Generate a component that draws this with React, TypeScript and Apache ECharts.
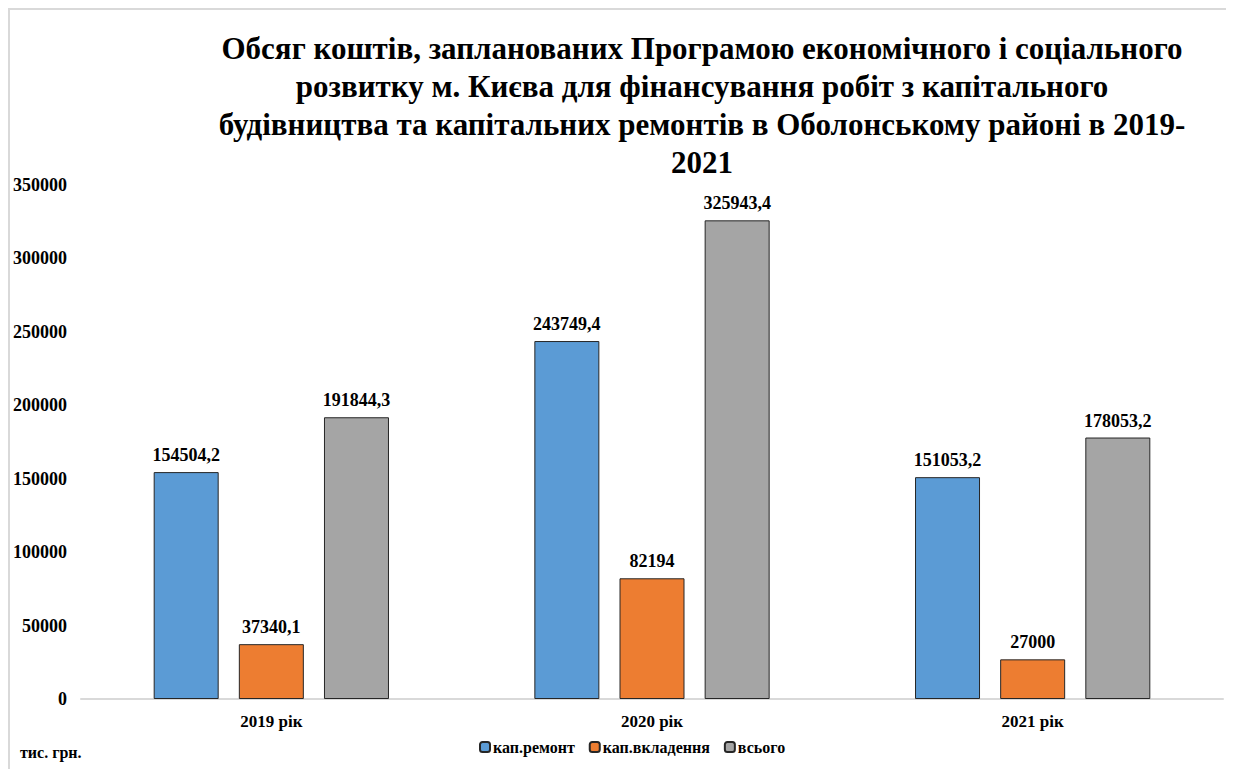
import React, { useEffect, useRef } from "react";
import * as echarts from "echarts";

const categories = ["2019 рік", "2020 рік", "2021 рік"];
const seriesNames = ["кап.ремонт", "кап.вкладення", "всього"];
const kapRemont = [154504.2, 243749.4, 151053.2];
const kapVkladennya = [37340.1, 82194, 27000];
const vsogo = [191844.3, 325943.4, 178053.2];
const colors = ["#5B9BD5", "#ED7D31", "#A5A5A5"];
const titleText =
  "Обсяг коштів, запланованих Програмою економічного і соціального\nрозвитку м. Києва для фінансування робіт з капітального\nбудівництва та капітальних ремонтів в Оболонському районі в 2019-\n2021";
const unitText = "тис. грн.";

const FONT = "Liberation Serif";

export default function App() {
  const ref = useRef<HTMLDivElement>(null);
  useEffect(() => {
    if (!ref.current) return;
    const chart = echarts.init(ref.current, undefined, { renderer: "svg" });
    const values = [kapRemont, kapVkladennya, vsogo];
    const fmt = (v: number) => String(v).replace(".", ",");
    chart.setOption({
      animation: false,
      backgroundColor: "#ffffff",
      textStyle: { fontFamily: FONT },
      title: {
        text: titleText,
        left: 687,
        top: 14,
        textAlign: "center",
        textStyle: {
          fontFamily: FONT,
          fontWeight: "bold",
          fontSize: 31,
          lineHeight: 38,
          color: "#000",
        },
      },
      legend: {
        data: seriesNames,
        left: 469,
        top: 729,
        padding: 0,
        itemWidth: 10,
        itemHeight: 10,
        itemGap: 14,
        textStyle: {
          fontFamily: FONT,
          fontWeight: "bold",
          fontSize: 16,
          color: "#000",
          padding: [0, 0, 0, -2],
        },
      },
      grid: { left: 67, right: 11, top: 175, bottom: 70, containLabel: false },
      xAxis: {
        type: "category",
        data: categories,
        axisLine: { lineStyle: { color: "#d9d9d9", width: 2 } },
        axisTick: { show: false },
        axisLabel: {
          fontFamily: FONT,
          fontWeight: "bold",
          fontSize: 17,
          color: "#000",
          margin: 14,
        },
      },
      yAxis: {
        type: "value",
        min: 0,
        max: 350000,
        interval: 50000,
        axisLine: { show: false },
        axisTick: { show: false },
        splitLine: { show: false },
        axisLabel: {
          fontFamily: FONT,
          fontWeight: "bold",
          fontSize: 18,
          color: "#000",
          margin: 14,
          formatter: (v: number) => String(v),
        },
      },
      graphic: [
        {
          type: "text",
          left: 10,
          top: 734,
          style: {
            text: unitText,
            font: `bold 16px ${FONT}`,
            fill: "#000",
          },
        },
      ],
      series: seriesNames.map((name, i) => ({
        name,
        type: "bar",
        data: values[i],
        barWidth: 65,
        barGap: "31%",
        itemStyle: { color: colors[i], borderColor: "#262626", borderWidth: 1 },
        label: {
          show: true,
          position: "top",
          distance: 8,
          formatter: (p: any) => fmt(p.value),
          fontFamily: FONT,
          fontWeight: "bold",
          fontSize: 18,
          color: "#000",
        },
      })),
    });
    return () => chart.dispose();
  }, []);
  return (
    <div
      ref={ref}
      style={{
        width: 1226,
        height: 761,
        boxSizing: "border-box",
        borderTop: "2px solid #d9d9d9",
        borderLeft: "2px solid #d9d9d9",
      }}
    />
  );
}
